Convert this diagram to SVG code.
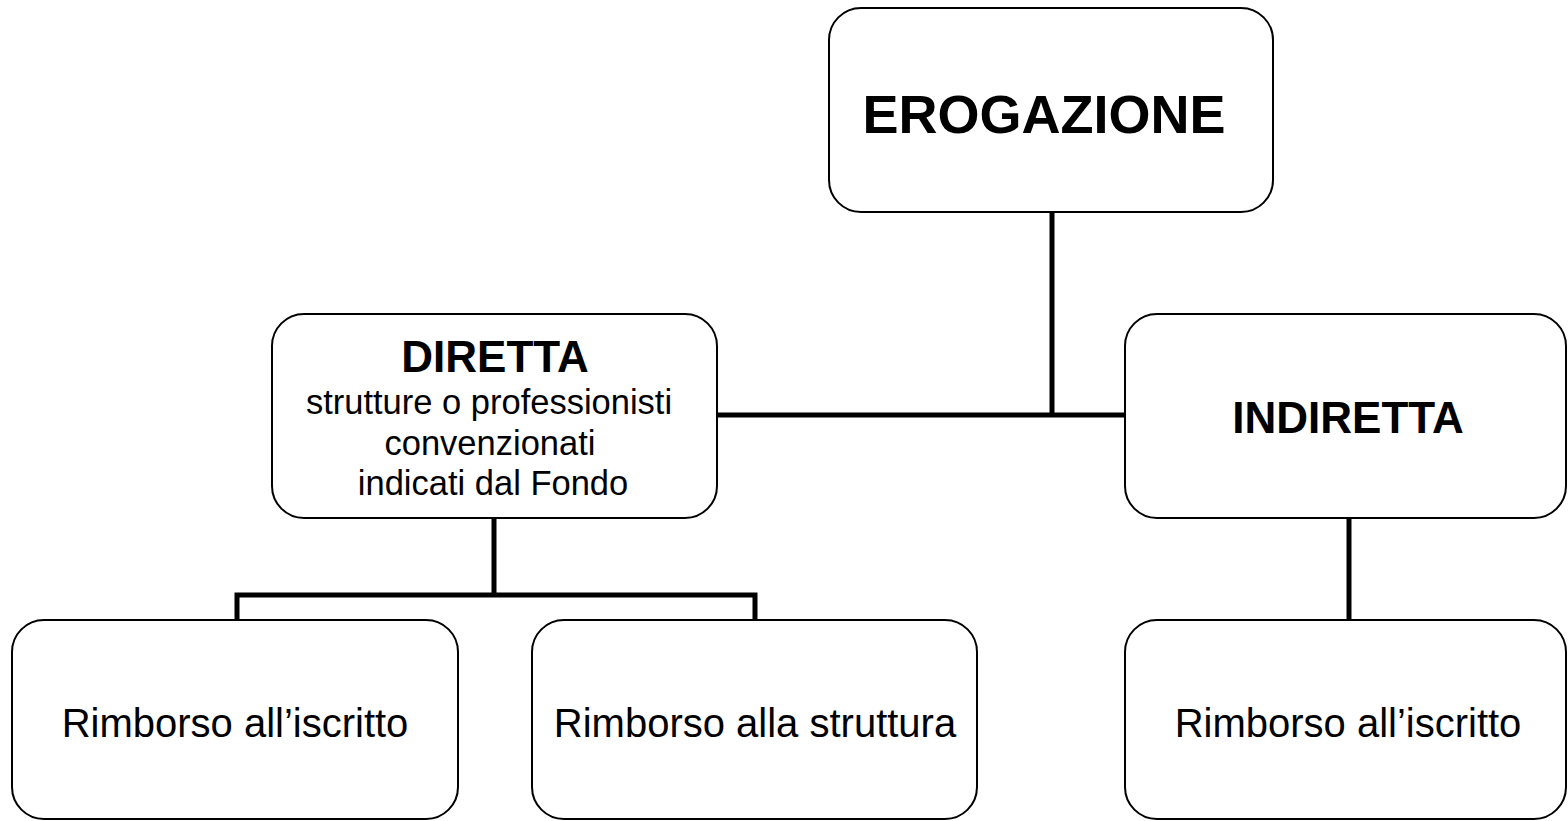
<svg xmlns="http://www.w3.org/2000/svg" width="1568" height="821" viewBox="0 0 1568 821">
<style>
.box{fill:#fff;stroke:#000;stroke-width:2}
.con{fill:none;stroke:#000;stroke-width:5}
text{font-family:"Liberation Sans",Arial,sans-serif;fill:#000;text-anchor:middle}
.b{font-weight:bold}
</style>
<rect width="1568" height="821" fill="#fff"/>
<g id="connectors">
<path class="con" d="M1052 212 V417 M717 415 H1125"/>
<path class="con" d="M494 518 V595 M237 620 V595 H755 V620"/>
<path class="con" d="M1349 518 V620"/>
</g>
<g id="erogazione">
<rect class="box" x="829" y="8" width="444" height="204" rx="32"/>
<text class="b" x="1044" y="133" font-size="54">EROGAZIONE</text>
</g>
<g id="diretta">
<rect class="box" x="272" y="314" width="445" height="204" rx="32"/>
<text class="b" x="495" y="372" font-size="44">DIRETTA</text>
<text x="489" y="414" font-size="34.5">strutture o professionisti</text>
<text x="490" y="455" font-size="34.5">convenzionati</text>
<text x="493" y="495" font-size="34.5">indicati dal Fondo</text>
</g>
<g id="indiretta">
<rect class="box" x="1125" y="314" width="441" height="204" rx="32"/>
<text class="b" x="1348" y="433" font-size="44">INDIRETTA</text>
</g>
<g id="rimborso-iscritto-diretta">
<rect class="box" x="12" y="620" width="446" height="199" rx="32"/>
<text x="235" y="737" font-size="40">Rimborso all’iscritto</text>
</g>
<g id="rimborso-struttura">
<rect class="box" x="532" y="620" width="445" height="199" rx="32"/>
<text x="755" y="737" font-size="40">Rimborso alla struttura</text>
</g>
<g id="rimborso-iscritto-indiretta">
<rect class="box" x="1125" y="620" width="441" height="199" rx="32"/>
<text x="1348" y="737" font-size="40">Rimborso all’iscritto</text>
</g>
</svg>
